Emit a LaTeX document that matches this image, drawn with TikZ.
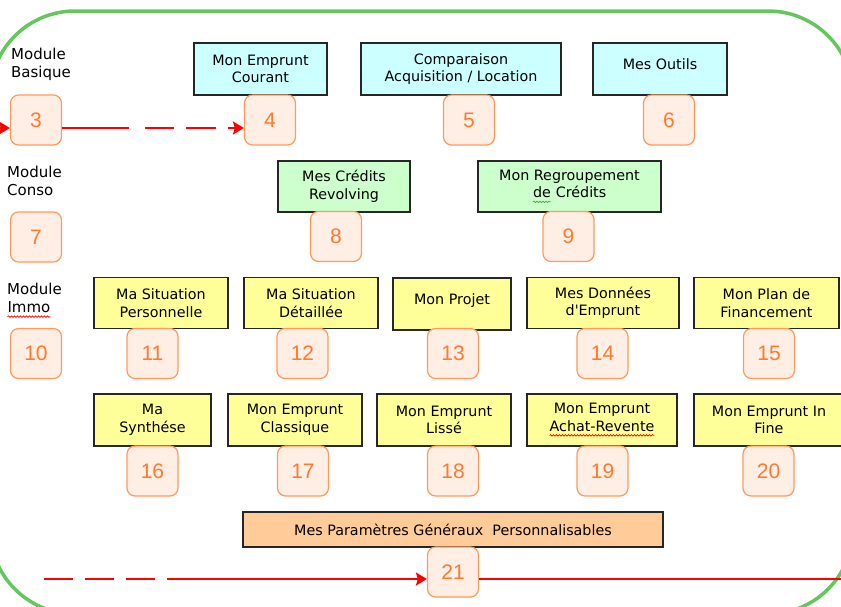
\documentclass[tikz,border=0pt]{standalone}
\usepackage{fontspec}
\newfontfamily\boitefont{DejaVu Sans}
\newfontfamily\chiffrefont{Liberation Sans}
\usepackage{xcolor}
\usepackage{tikz}
\usetikzlibrary{shapes,calc,arrows,arrows.meta,positioning,decorations.pathmorphing}
\definecolor{bleuclair}{HTML}{CCFFFF}
\definecolor{vertclair}{HTML}{CCFFCC}
\definecolor{jaune}{HTML}{FFFF99}
\definecolor{peche}{HTML}{FFCC99}
\definecolor{orfond}{HTML}{FFEEE4}
\definecolor{orbord}{HTML}{FF9A5C}
\definecolor{ortexte}{HTML}{FF7A2E}
\definecolor{cadre}{HTML}{66C65E}
\definecolor{vertsouligne}{HTML}{3FAA3F}

% mot souligne en zigzag (correcteur)
\newcommand{\ondule}[2]{\tikz[baseline=(w.base)]{\node[draw=none,fill=none,inner sep=0pt,outer sep=0pt,minimum width=0pt,minimum height=0pt] (w) {#2};\draw[#1,line width=0.7pt,sharp corners,decorate,decoration={snake,amplitude=0.8pt,segment length=3pt}] ([yshift=-4pt]w.base west) -- ([yshift=-4pt]w.base east);}}

\begin{document}
\begin{tikzpicture}[x=1pt,y=-1pt]
				\tikzstyle{titre}=[rectangle,draw=black!85,line width=1.2pt,align=center,inner sep=1pt,font=\boitefont\fontsize{14.3}{17.5}\selectfont]
				\tikzstyle{bleu}=[titre,fill=bleuclair,minimum height=52pt]
				\tikzstyle{vert}=[titre,fill=vertclair,minimum height=51pt]
				\tikzstyle{jaune}=[titre,fill=jaune,minimum height=51pt]
				\tikzstyle{peche}=[titre,fill=peche,minimum height=35pt]
				\tikzstyle{num}=[rectangle,rounded corners=8pt,draw=orbord,line width=1.2pt,fill=orfond,text=ortexte,minimum width=51pt,minimum height=50pt,font=\chiffrefont\fontsize{21}{21}\selectfont]
				\tikzstyle{module}=[anchor=north west,align=left,inner sep=0pt,font=\boitefont\fontsize{15}{18}\selectfont]
				\tikzstyle{fleche}=[draw=red,line width=2.6pt,-{Stealth[length=11pt,width=13pt,inset=2pt]}]
				\useasboundingbox (0,0) rectangle (841,606);
				% cadre vert
				\draw[cadre,line width=3.5pt,rounded corners=85pt] (-10,11) rectangle (853,614);
				% titres des modules
				\node[module] (m1) at (11,48) {Module\\Basique};
				\node[module] (m2) at (7,166) {Module\\Conso};
				\node[module] (m3) at (7,283) {Module\\\ondule{red}{Immo}};
				% ecrans
				\node[bleu,minimum width=133pt] (t4) at (260.5,69) {Mon Emprunt\\Courant};
				\node[bleu,minimum width=200pt] (t5) at (461,69) {Comparaison\\Acquisition / Location};
				\node[bleu,minimum width=134pt,text depth=10pt] (t6) at (660,69) {Mes Outils};
				\node[vert,minimum width=132pt] (t8) at (344,186.5) {Mes Crédits\\Revolving};
				\node[vert,minimum width=183pt] (t9) at (569.5,186.5) {Mon Regroupement\\\ondule{vertsouligne}{de} Crédits};
				\node[jaune,minimum width=134pt] (t11) at (161,303) {Ma Situation\\Personnelle};
				\node[jaune,minimum width=134pt] (t12) at (311,303) {Ma Situation\\Détaillée};
				\node[jaune,minimum width=118pt,minimum height=52pt,text depth=10pt] (t13) at (452,304) {Mon Projet};
				\node[jaune,minimum width=152pt] (t14) at (603,303) {Mes Données\\d'Emprunt};
				\node[jaune,minimum width=145pt] (t15) at (766.5,303) {Mon Plan de\\Financement};
				\node[jaune,minimum width=117pt,minimum height=52pt] (t16) at (152.5,420) {Ma\\Synthése};
				\node[jaune,minimum width=134pt,minimum height=52pt] (t17) at (295,420) {Mon Emprunt\\Classique};
				\node[jaune,minimum width=134pt,minimum height=52pt] (t18) at (444,420) {Mon Emprunt\\Lissé};
				\node[jaune,minimum width=150pt,minimum height=52pt] (t19) at (602,420) {Mon Emprunt\\\ondule{red}{Achat-Revente}};
				\node[jaune,minimum width=150pt,minimum height=52pt] (t20) at (769,420) {Mon Emprunt In\\Fine};
				\node[peche,minimum width=420pt] (t21) at (453,529.5) {Mes Paramètres Généraux~ Personnalisables};
				% numeros
				\foreach \n/\x/\y in {3/36/120,4/270/120,5/469/120,6/669/120,7/36/237,8/336/236.5,9/568.5/236.5,10/36/353.5,11/152.5/353.5,12/302.5/353.5,13/453/353.5,14/602.5/353.5,15/769/353.5,16/152.5/471,17/303/471,18/453/471,19/602.5/471,20/768.5/471,21/453/572}
					\node[num] (n\n) at (\x,\y) {\n};
				% parcours
				\coordinate (g0) at (-5,128);
				\coordinate (g1) at (44,579);
				\coordinate (g2) at (845,579);
				\draw[fleche] (g0) -- ([yshift=-8pt]n3.west);
				\draw[fleche,dash pattern=on 67pt off 16pt on 29pt off 12pt on 30pt off 12pt on 80pt] ([yshift=-8pt]n3.east) -- ([yshift=-8pt]n4.west);
				\draw[fleche,dash pattern=on 29pt off 12pt on 29pt off 12pt on 29pt off 12pt on 400pt] (g1) -- (g1 -| n21.west);
				\draw[red,line width=2.6pt] (g1 -| n21.east) -- (g2);
			\end{tikzpicture}
\end{document}
